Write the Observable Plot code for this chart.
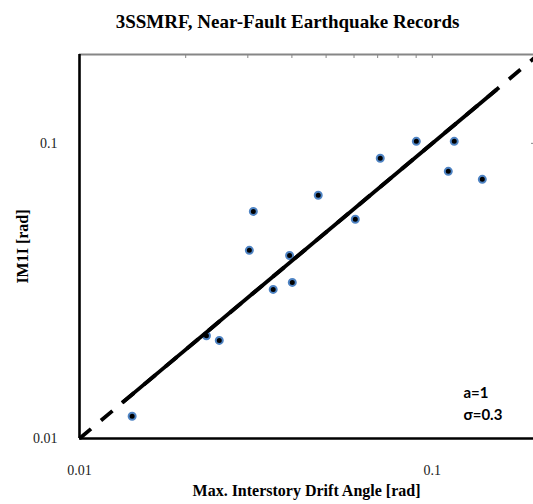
<!DOCTYPE html>
<html>
<head>
<meta charset="utf-8">
<script src="https://cdn.jsdelivr.net/npm/d3@7"></script>
<script src="https://cdn.jsdelivr.net/npm/@observablehq/plot@0.6"></script>
<style>
  html, body { margin: 0; padding: 0; background: #fff; }
</style>
</head>
<body>
<div id="chart"></div>
<script>
// ---- data ----
const driftAngle = [0.0141, 0.0229, 0.0249, 0.0303, 0.0311, 0.0354, 0.0394, 0.0401, 0.0475, 0.0605, 0.0712, 0.0901, 0.1110, 0.1154, 0.1386];
const im1i       = [0.0119, 0.0223, 0.0215, 0.0434, 0.0588, 0.0320, 0.0417, 0.0338, 0.0667, 0.0553, 0.0890, 0.1016, 0.0804, 0.1016, 0.0755];

// fitted line y = a * x (a = 1): solid over the data range, dashed extension over the full axis
const fitSolid  = [0.0132, 0.152];
const fitDashed = [0.01, 0.2];
const a = 1;

const axisDomain  = [0.01, 0.2];
const xTicks      = [0.01, 0.1];
const xTickLabels = ["0.01", "0.1"];
const yTicks      = [0.01, 0.1];
const yTickLabels = ["0.01", "0.1"];
const topMinorTicks = [0.02, 0.03, 0.04, 0.05, 0.06, 0.07, 0.08, 0.09, 0.1];

const title  = "3SSMRF, Near-Fault Earthquake Records";
const xLabel = "Max. Interstory Drift Angle [rad]";
const yLabel = "IM1I [rad]";
const annotation = "a=1\nσ=0.3";

const points = driftAngle.map((x, i) => ({x, y: im1i[i]}));
const solidLine  = fitSolid.map(x => ({x, y: a * x}));
const dashedLine = fitDashed.map(x => ({x, y: a * x}));

const serif = "'Liberation Serif', 'Times New Roman', serif";

const chart = Plot.plot({
  width: 533,
  height: 504,
  marginTop: 54,
  marginLeft: 79,
  marginRight: 0,
  marginBottom: 66,
  style: {fontFamily: serif, fontSize: "14px", background: "#fff"},
  x: {type: "log", domain: axisDomain, range: [79, 538]},
  y: {type: "log", domain: axisDomain},
  marks: [
    // top frame and minor ticks (gray)
    Plot.ruleY([axisDomain[1]], {stroke: "#868686", strokeWidth: 2.2}),
    Plot.axisX({anchor: "top", ticks: topMinorTicks, tickSize: 3, dy: 3, stroke: "#868686", tickFormat: () => "", label: null}),
    Plot.axisY({anchor: "right", ticks: [0.1], tickSize: 3, dx: -3, stroke: "#868686", tickFormat: () => "", label: null}),
    // tick labels
    Plot.axisX({ticks: xTicks, tickSize: 0, tickPadding: 27, tickFormat: (d, i) => xTickLabels[xTicks.indexOf(d)], label: null, fontSize: 14, fill: "#222"}),
    Plot.axisY({ticks: yTicks, tickSize: 0, tickPadding: 22, tickFormat: (d, i) => yTickLabels[yTicks.indexOf(d)], label: null, fontSize: 14, fill: "#222"}),
    // data
    Plot.dot(points, {x: "x", y: "y", r: 3.5, fill: "#000", stroke: "#4f84c4", strokeWidth: 2}),
    // fit line
    Plot.line(dashedLine, {x: "x", y: "y", stroke: "#000", strokeWidth: 3.8, strokeDasharray: "15,13", strokeLinecap: "butt"}),
    Plot.line(solidLine, {x: "x", y: "y", stroke: "#000", strokeWidth: 3.8, strokeLinecap: "butt"}),
    // left and bottom axis lines
    Plot.ruleX([axisDomain[0]], {stroke: "#000", strokeWidth: 2.6}),
    Plot.ruleY([axisDomain[0]], {stroke: "#000", strokeWidth: 2.6}),
    // titles
    Plot.text([title], {frameAnchor: "top-left", dx: 208, dy: -33, fontSize: 19, fontWeight: "bold", textAnchor: "middle", lineAnchor: "middle", fill: "#000"}),
    Plot.text([xLabel], {frameAnchor: "bottom", dy: 52, fontSize: 16, fontWeight: "bold", textAnchor: "middle", lineAnchor: "middle", fill: "#000"}),
    Plot.text([yLabel], {frameAnchor: "left", dx: -57, rotate: -90, fontSize: 16, fontWeight: "bold", textAnchor: "middle", lineAnchor: "middle", fill: "#000"}),
    Plot.text([annotation], {frameAnchor: "top-left", dx: 384, dy: 328, fontSize: 15, fontWeight: "bold", fontFamily: "Lato, 'Open Sans', sans-serif", textAnchor: "start", lineAnchor: "top", lineHeight: 1.45, fill: "#000"})
  ]
});
document.getElementById("chart").appendChild(chart);
</script>
</body>
</html>
